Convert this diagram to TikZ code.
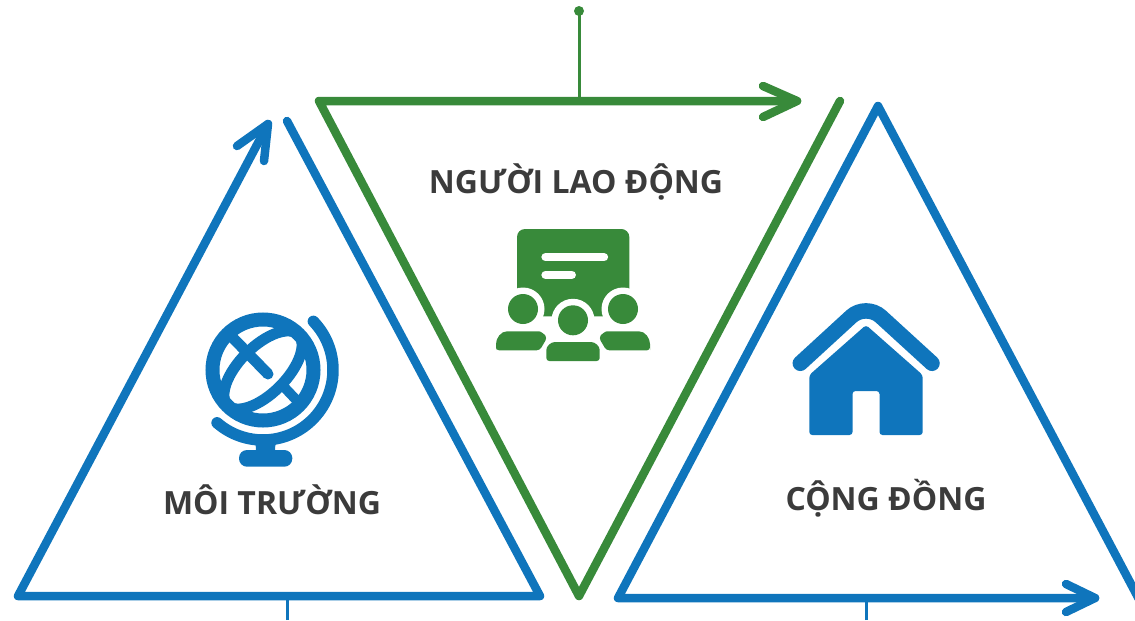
\documentclass[tikz,border=0pt]{standalone}
\usepackage{fontspec}
\setmainfont{Open Sans}
\usepackage{tikz}
\usetikzlibrary{positioning}
\definecolor{blueline}{HTML}{0F75BC}
\definecolor{greenline}{HTML}{388A3A}
\definecolor{labelgray}{HTML}{3B3B3B}
\tikzset{
    triline/.style={line width=0.085cm, line cap=round, line join=round},
    stemline/.style={line width=0.03cm},
    pillar/.style={font=\fontsize{9.1}{11}\selectfont\bfseries, text=labelgray, inner sep=0pt},
}
\begin{document}
\begin{tikzpicture}
	\useasboundingbox (0,0) rectangle (11.35,6.20);
	\clip (0,0) rectangle (11.35,6.20);
	% left triangle
	\coordinate (envtip) at (2.68,4.96);
	\coordinate (envleft) at (0.18,0.24);
	\coordinate (envright) at (5.40,0.24);
	\coordinate (envend) at (2.87,4.99);
	\coordinate (envbarba) at (2.37,4.74);
	\coordinate (envbarbb) at (2.64,4.59);
	\coordinate (envstem) at (2.87,0);
	\draw[triline, blueline] (envtip) -- (envleft) -- (envright) -- (envend);
	\draw[triline, blueline] (envbarba) -- (envtip) -- (envbarbb);
	\draw[stemline, blueline] (envstem) -- (2.87,0.24);
	% middle triangle
	\coordinate (worktip) at (7.97,5.19);
	\coordinate (workleft) at (3.19,5.19);
	\coordinate (workbottom) at (5.79,0.24);
	\coordinate (workend) at (8.40,5.19);
	\coordinate (workbarba) at (7.63,5.34);
	\coordinate (workbarbb) at (7.63,5.03);
	\coordinate (workstem) at (5.79,5.19);
	\draw[triline, greenline] (worktip) -- (workleft) -- (workbottom) -- (workend);
	\draw[triline, greenline] (workbarba) -- (worktip) -- (workbarbb);
	\fill[greenline] (5.79,6.09) circle (0.05) coordinate (workdot);
	\draw[stemline, greenline] (workdot) -- (workstem);
	% right triangle
	\coordinate (comtop) at (8.78,5.14);
	\coordinate (comleft) at (6.18,0.22);
	\coordinate (comtip) at (10.95,0.22);
	\coordinate (comend) at (11.50,0);
	\coordinate (combarba) at (10.66,0.36);
	\coordinate (combarbb) at (10.66,0.08);
	\coordinate (comstem) at (8.66,0);
	\draw[triline, blueline] (comend) -- (comtop) -- (comleft) -- (comtip);
	\draw[triline, blueline] (combarba) -- (comtip) -- (combarbb);
	\draw[stemline, blueline] (comstem) -- (8.66,0.22);
	% labels
	\node[pillar] (envlabel) at (2.72,1.20) {MÔI TRƯỜNG};
	\node[pillar] (worklabel) at (5.76,4.38) {NGƯỜI LAO ĐỘNG};
	\node[pillar] (comlabel) at (8.86,1.22) {CỘNG ĐỒNG};
	% globe
	\begin{scope}[shift={(2.63,2.50)}]
		\draw[line width=0.14cm, blueline] (0,0) circle (0.505);
		\begin{scope}
			\clip (0,0) circle (0.51);
			\draw[line width=0.11cm, blueline, rotate=45] (0,0) ellipse (0.50 and 0.235);
		\end{scope}
		\draw[line width=0.11cm, blueline, line cap=round] (-0.30,0.32) -- (0.05,-0.04);
		\draw[line width=0.10cm, blueline] (0.22,-0.18) -- (0.40,-0.37);
		\draw[line width=0.115cm, blueline, line cap=round] (44:0.70) arc (44:-131:0.70);
		\fill[blueline] (-0.12,-0.70) .. controls (-0.07,-0.74) .. (-0.07,-0.82) -- (0.12,-0.82) .. controls (0.12,-0.74) .. (0.17,-0.70) -- cycle;
		\fill[blueline, rounded corners=0.08cm] (-0.24,-0.80) rectangle (0.293,-0.967);
	\end{scope}
	% audience
	\begin{scope}[shift={(5.73,3.11)}]
		\fill[greenline, rounded corners=0.08cm] (-0.56,-0.073) -- (-0.56,0.80) -- (0.563,0.80) -- (0.563,-0.073) -- cycle;
		\draw[line width=0.083cm, white, line cap=round] (-0.275,0.518) -- (0.31,0.518);
		\draw[line width=0.083cm, white, line cap=round] (-0.275,0.342) -- (-0.012,0.342);
		\foreach \hx/\hy in {-0.50/0, 0.50/0, 0/-0.113} {
			\fill[white] (\hx,\hy) circle (0.215);
			\fill[greenline] (\hx,\hy) circle (0.15);
		}
		\foreach \sx in {-1,1} {
			\fill[greenline, rounded corners=0.03cm] (\sx*0.77,-0.413) -- (\sx*0.77,-0.38) .. controls (\sx*0.77,-0.29) and (\sx*0.72,-0.223) .. (\sx*0.63,-0.223) -- (\sx*0.37,-0.223) .. controls (\sx*0.32,-0.223) and (\sx*0.28,-0.26) .. (\sx*0.26,-0.29) -- (\sx*0.333,-0.413) -- cycle;
		}
		\fill[greenline, rounded corners=0.03cm] (-0.267,-0.52) -- (-0.267,-0.44) .. controls (-0.267,-0.37) and (-0.22,-0.33) .. (-0.15,-0.33) -- (0.15,-0.33) .. controls (0.22,-0.33) and (0.267,-0.37) .. (0.267,-0.44) -- (0.267,-0.52) -- cycle;
	\end{scope}
	% house
	\begin{scope}[shift={(8.66,1.85)}]
		\draw[line width=0.155cm, blueline, line cap=round, rounded corners=0.2cm] (-0.657,0.717) -- (0,1.32) -- (0.66,0.717);
		\fill[blueline, rounded corners=0.03cm] (-0.567,0) -- (-0.567,0.60) -- (0,1.10) -- (0.567,0.60) -- (0.567,0) -- (0.135,0) -- (0.135,0.44) -- (-0.135,0.44) -- (-0.135,0) -- cycle;
	\end{scope}
\end{tikzpicture}
\end{document}
